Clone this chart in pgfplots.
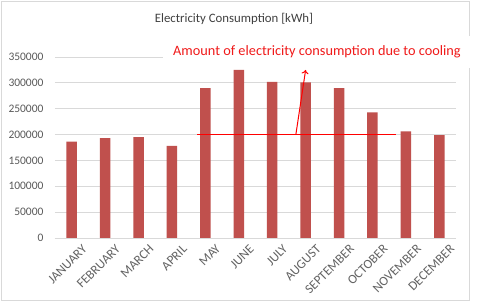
\documentclass[border=0pt]{standalone}
\usepackage{pgfplots}
\pgfplotsset{compat=1.18}
\usetikzlibrary{arrows.meta}
\usepackage{fontspec}
\setmainfont{Carlito}
\definecolor{barred}{HTML}{C0504D}
\definecolor{gridgray}{HTML}{D9D9D9}
\definecolor{labgray}{HTML}{595959}
\definecolor{xlabgray}{HTML}{636363}
\definecolor{framegray}{HTML}{D9D9D9}
\definecolor{annred}{HTML}{F01A1A}
\begin{document}
\begin{tikzpicture}[x=1bp,y=1bp]
\path[use as bounding box] (-55,-67) rectangle (425,238);
\fill[white] (-55,-67) rectangle (425,238);
\draw[framegray,line width=0.8bp] (-54,-62) rectangle (414,237);
\begin{axis}[
  at={(0,0)}, anchor=south west,
  scale only axis, width=401bp, height=181bp,
  xmin=-0.5, xmax=11.5, ymin=0, ymax=350000,
  clip=false,
  axis line style={draw=none},
  axis x line*=bottom,
  axis y line*=left,
  ytick={0,50000,...,350000},
  xtick={0,...,11},
  xticklabels={JANUARY,FEBRUARY,MARCH,APRIL,MAY,JUNE,JULY,AUGUST,SEPTEMBER,OCTOBER,NOVEMBER,DECEMBER},
  major tick length=0pt,
  ymajorgrids, grid style={gridgray,line width=0.8bp},
  /pgf/number format/assume math mode=true,
  /pgf/number format/fixed, /pgf/number format/1000 sep={},
  scaled y ticks=false,
  yticklabel style={font=\fontsize{11.5bp}{13bp}\selectfont, text=labgray, anchor=east, xshift=-8bp},
  xticklabel style={font=\fontsize{13bp}{15bp}\selectfont, text=xlabgray, rotate=45, anchor=north east, inner sep=0pt, yshift=-11bp, xshift=3bp},
]
\addplot[ybar, bar width=10.5bp, fill=barred, draw=none] coordinates {
(0,186600) (1,193000) (2,195000) (3,178000) (4,290000) (5,325000)
(6,302000) (7,301000) (8,290000) (9,243000) (10,206000) (11,199000)};
\draw[gridgray,line width=0.8bp] (axis cs:-0.5,0) -- (axis cs:11.5,0);
\draw[red,line width=1.8bp] (axis cs:3.75,200000) -- (axis cs:9.7,200000);
\draw[red,line width=1bp,-{To[length=4bp,width=7bp]}] (axis cs:6.71,201000) -- (axis cs:7.0,325000);
\end{axis}
\node[fill=white,inner sep=0pt,minimum width=308bp,minimum height=32bp,text=annred,font=\fontsize{14.3bp}{16bp}\selectfont] at (262,186) {Amount of electricity consumption due to cooling};
\node[text=black!75,font=\fontsize{12.8bp}{14bp}\selectfont] at (179,219) {Electricity Consumption [kWh]};
\end{tikzpicture}
\end{document}
